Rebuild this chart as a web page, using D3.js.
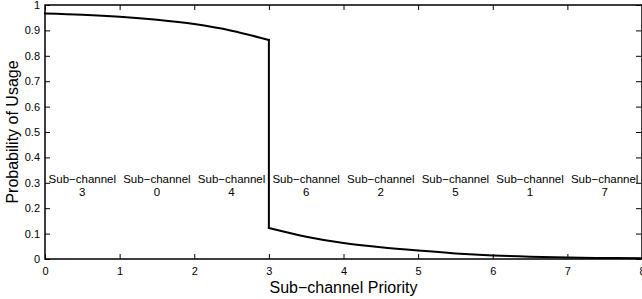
<!DOCTYPE html>
<html>
<head>
<meta charset="utf-8">
<script src="https://cdn.jsdelivr.net/npm/d3@7"></script>
<style>
  body { margin: 0; background: #fff; }
  text { font-family: "Liberation Sans", Arial, sans-serif; }
</style>
</head>
<body>
<div id="chart"></div>
<script>
const width = 642;
const height = 299;
const margin = { top: 5, right: 0, bottom: 40, left: 45 };

// upper branch (priority 0..3) and lower branch (priority 3..8)
const upperX = [0, 0.5, 1, 1.5, 2, 2.5, 3];
const upperY = [0.967, 0.962, 0.954, 0.942, 0.925, 0.899, 0.862];
const lowerX = [3, 3.5, 4, 4.5, 5, 5.5, 6, 6.5, 7, 7.5, 8];
const lowerY = [0.122, 0.088, 0.063, 0.046, 0.033, 0.022, 0.014, 0.009, 0.006, 0.004, 0.003];

const channelOrder = ["3", "0", "4", "6", "2", "5", "1", "7"];
const xTicks = [0, 1, 2, 3, 4, 5, 6, 7, 8];
const yTicks = [0, 0.1, 0.2, 0.3, 0.4, 0.5, 0.6, 0.7, 0.8, 0.9, 1];

const innerW = width - margin.left - margin.right;
const innerH = height - margin.top - margin.bottom;

const x = d3.scaleLinear().domain([0, 8]).range([margin.left, margin.left + innerW]);
const y = d3.scaleLinear().domain([0, 1]).range([margin.top + innerH, margin.top]);

const svg = d3.select("#chart").append("svg")
    .attr("width", width)
    .attr("height", height);

// ticks pointing inward, MATLAB style
svg.append("g")
    .attr("transform", `translate(0,${y(0)})`)
    .call(d3.axisBottom(x).tickValues(xTicks).tickSizeInner(-5).tickSizeOuter(0).tickPadding(8).tickFormat(d3.format("d")))
    .call(g => g.select(".domain").remove())
    .call(g => g.selectAll("text").attr("font-size", 11).attr("fill", "#000"));

svg.append("g")
    .attr("transform", `translate(0,${y(1)})`)
    .call(d3.axisTop(x).tickValues(xTicks).tickSizeInner(-5).tickSizeOuter(0).tickFormat(""))
    .call(g => g.select(".domain").remove());

svg.append("g")
    .attr("transform", `translate(${x(0)},0)`)
    .call(d3.axisLeft(y).tickValues(yTicks).tickSizeInner(-5).tickSizeOuter(0).tickPadding(5).tickFormat(d => d === 0 || d === 1 ? d : d3.format(".1f")(d)))
    .call(g => g.select(".domain").remove())
    .call(g => g.selectAll("text").attr("font-size", 11).attr("fill", "#000"));

svg.append("g")
    .attr("transform", `translate(${x(8) - 1},0)`)
    .call(d3.axisRight(y).tickValues(yTicks).tickSizeInner(-5).tickSizeOuter(0).tickFormat(""))
    .call(g => g.select(".domain").remove());

// box
svg.append("rect")
    .attr("x", x(0))
    .attr("y", y(1))
    .attr("width", x(8) - x(0))
    .attr("height", y(0) - y(1))
    .attr("fill", "none")
    .attr("stroke", "#000")
    .attr("stroke-width", 1.5);

svg.selectAll(".tick line").attr("stroke", "#000").attr("stroke-width", 1);

// curve: two smooth branches joined by the drop at priority 3
const upper = upperX.map((v, i) => [v, upperY[i]]);
const lower = lowerX.map((v, i) => [v, lowerY[i]]);
const drop = [upper[upper.length - 1], lower[0]];

[upper, drop, lower].forEach(seg => {
    svg.append("path")
        .datum(seg)
        .attr("d", d3.line().x(d => x(d[0])).y(d => y(d[1])).curve(seg === drop ? d3.curveLinear : d3.curveMonotoneX))
        .attr("fill", "none")
        .attr("stroke", "#000")
        .attr("stroke-width", 2)
        .attr("stroke-linecap", "square");
});

// sub-channel labels
const labels = svg.append("g");
channelOrder.forEach((ch, i) => {
    const t = labels.append("text")
        .attr("x", x(i + 0.5))
        .attr("y", y(0.3))
        .attr("text-anchor", "middle")
        .attr("font-size", 11.5)
        .attr("fill", "#000");
    t.append("tspan").attr("x", x(i + 0.5)).attr("dy", 0).text("Sub\u2212channel");
    t.append("tspan").attr("x", x(i + 0.5)).attr("dy", 13).text(ch);
});

// axis titles
svg.append("text")
    .attr("x", x(4))
    .attr("y", 293)
    .attr("text-anchor", "middle")
    .attr("font-size", 16)
    .text("Sub\u2212channel Priority");

svg.append("text")
    .attr("transform", `translate(18,${y(0.5)}) rotate(-90)`)
    .attr("text-anchor", "middle")
    .attr("font-size", 16)
    .text("Probability of Usage");
</script>
</body>
</html>
